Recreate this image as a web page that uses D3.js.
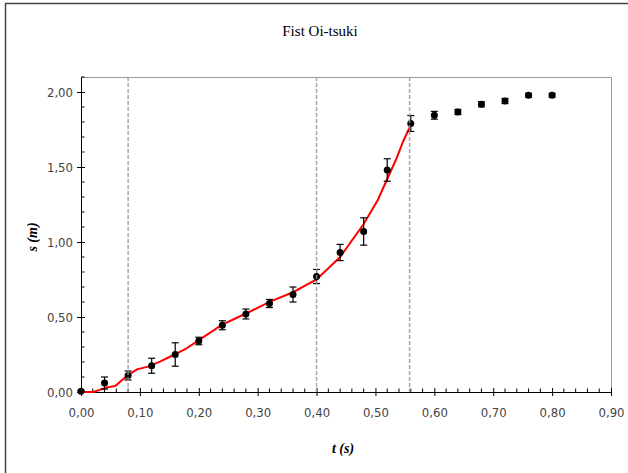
<!DOCTYPE html>
<html>
<head>
<meta charset="utf-8">
<script src="https://cdn.jsdelivr.net/npm/d3@7"></script>
<style>
  body { margin: 0; background: #fff; }
  .tick text { font-family: "Liberation Sans Narrow", "DejaVu Sans Condensed", sans-serif; font-size: 13px; fill: #444; }
</style>
</head>
<body>
<div class="chart"></div>
<script>
// measured points: time (s), distance (m) and error bar half-width
var times = [0.00, 0.04, 0.08, 0.12, 0.16, 0.20, 0.24, 0.28, 0.32, 0.36, 0.40,
             0.44, 0.48, 0.52, 0.56, 0.60, 0.64, 0.68, 0.72, 0.76, 0.80];
var dist = [0.005, 0.06, 0.11, 0.175, 0.25, 0.34, 0.445, 0.52, 0.59, 0.65, 0.77,
            0.93, 1.07, 1.48, 1.79, 1.845, 1.867, 1.918, 1.94, 1.978, 1.978];
var errs = [0.006, 0.04, 0.03, 0.05, 0.078, 0.025, 0.03, 0.033, 0.027, 0.05, 0.047,
            0.054, 0.091, 0.075, 0.053, 0.026, 0.017, 0.017, 0.017, 0.013, 0.013];

// red fitted curve
var fitT = [0, 0.021, 0.044, 0.058, 0.080, 0.095, 0.114, 0.134, 0.151, 0.177, 0.199,
            0.239, 0.281, 0.321, 0.36, 0.40, 0.44, 0.48, 0.504, 0.52, 0.535, 0.547, 0.56];
var fitS = [0, 0, 0.031, 0.040, 0.113, 0.151, 0.169, 0.202, 0.235, 0.285, 0.342,
            0.447, 0.525, 0.602, 0.665, 0.75, 0.90, 1.12, 1.28, 1.42, 1.55, 1.67, 1.78];

// phase separators
var phases = [0.08, 0.40, 0.558];

var xTicks = [0, 0.1, 0.2, 0.3, 0.4, 0.5, 0.6, 0.7, 0.8, 0.9];
var yTicks = [0, 0.5, 1.0, 1.5, 2.0];

var W = 628, H = 473;
var margin = {top: 77, right: 17, bottom: 81, left: 81};

var svg = d3.select(".chart").append("svg")
            .attr("width", W)
            .attr("height", H);

// outer frame
svg.append("rect")
   .attr("x", 5.5).attr("y", 3.5)
   .attr("width", W + 20).attr("height", H + 20)
   .attr("fill", "none")
   .attr("stroke", "#444")
   .attr("stroke-width", 1.5);

var x = d3.scaleLinear().domain([0, 0.9]).range([margin.left, W - margin.right]);
var y = d3.scaleLinear().domain([0, 2.1]).range([H - margin.bottom, margin.top]);

var fmt = function(d) { return d3.format(".2f")(d).replace(".", ","); };

// plot frame (top and right in grey)
svg.append("path")
   .attr("d", "M" + x(0) + "," + (y(2.1) + 0.5) + "H" + (x(0.9) + 0.5) + "V" + y(0))
   .attr("fill", "none")
   .attr("stroke", "#999")
   .attr("stroke-width", 1);

// minor ticks
var minorX = d3.range(0, 0.9001, 0.02).filter(function(d) { return Math.abs(d * 10 - Math.round(d * 10)) > 1e-6; });
var minorY = d3.range(0, 2.1001, 0.1).filter(function(d) { return Math.abs(d * 2 - Math.round(d * 2)) > 1e-6; });

svg.append("g").selectAll("line").data(minorX).enter().append("line")
   .attr("x1", function(d) { return x(d); }).attr("x2", function(d) { return x(d); })
   .attr("y1", y(0) - 3.5).attr("y2", y(0))
   .attr("stroke", "#000");

svg.append("g").selectAll("line").data(minorY).enter().append("line")
   .attr("y1", function(d) { return y(d); }).attr("y2", function(d) { return y(d); })
   .attr("x1", x(0)).attr("x2", x(0) + 3.5)
   .attr("stroke", "#000");

// axes
var xAxis = svg.append("g")
   .attr("transform", "translate(0," + y(0) + ")")
   .call(d3.axisBottom(x).tickValues(xTicks).tickFormat(fmt).tickSize(4).tickPadding(12).tickSizeOuter(0));
xAxis.select(".domain").attr("stroke", "#000");
xAxis.selectAll(".tick line").attr("y1", -4).attr("stroke", "#000");

var yAxis = svg.append("g")
   .attr("transform", "translate(" + x(0) + ",0)")
   .call(d3.axisLeft(y).tickValues(yTicks).tickFormat(fmt).tickSize(4).tickPadding(4).tickSizeOuter(0));
yAxis.select(".domain").attr("stroke", "#000");
yAxis.selectAll(".tick line").attr("x1", 4).attr("x2", -4).attr("stroke", "#000");

// red fitted line
var line = d3.line()
   .x(function(d) { return x(d[0]); })
   .y(function(d) { return y(d[1]); });

svg.append("path")
   .datum(d3.zip(fitT, fitS))
   .attr("d", line)
   .attr("fill", "none")
   .attr("stroke", "#ff0000")
   .attr("stroke-width", 2);

// error bars
var pts = d3.zip(times, dist, errs);
var eb = svg.append("g").attr("stroke", "#000").attr("stroke-width", 1.2);
eb.selectAll(".v").data(pts).enter().append("line")
  .attr("x1", function(d) { return x(d[0]); }).attr("x2", function(d) { return x(d[0]); })
  .attr("y1", function(d) { return y(d[1] + d[2]); })
  .attr("y2", function(d) { return y(d[1] - d[2]); });
[1, -1].forEach(function(s) {
  eb.selectAll(".c" + s).data(pts).enter().append("line")
    .attr("x1", function(d) { return x(d[0]) - 3.5; })
    .attr("x2", function(d) { return x(d[0]) + 3.5; })
    .attr("y1", function(d) { return y(d[1] + s * d[2]); })
    .attr("y2", function(d) { return y(d[1] + s * d[2]); });
});

// points
svg.append("g").selectAll("circle").data(pts).enter().append("circle")
   .attr("cx", function(d) { return x(d[0]); })
   .attr("cy", function(d) { return y(d[1]); })
   .attr("r", 3.5)
   .attr("fill", "#000");

// dashed phase lines
svg.append("g").selectAll("line").data(phases).enter().append("line")
   .attr("x1", function(d) { return x(d); }).attr("x2", function(d) { return x(d); })
   .attr("y1", y(2.1)).attr("y2", y(0))
   .attr("stroke", "#999")
   .attr("stroke-width", 1.5)
   .attr("stroke-opacity", 0.85)
   .attr("stroke-dasharray", "4,2");

// title and axis labels
svg.append("text")
   .attr("x", 320).attr("y", 36)
   .attr("text-anchor", "middle")
   .style("font-family", "'Liberation Serif', serif")
   .style("font-size", "15px")
   .text("Fist Oi-tsuki");

svg.append("text")
   .attr("x", 343).attr("y", 453)
   .attr("text-anchor", "middle")
   .style("font-family", "'Liberation Serif', serif")
   .style("font-size", "14px")
   .style("font-weight", "bold")
   .style("font-style", "italic")
   .text("t (s)");

svg.append("text")
   .attr("transform", "translate(37,237) rotate(-90)")
   .attr("text-anchor", "middle")
   .style("font-family", "'Liberation Serif', serif")
   .style("font-size", "14px")
   .style("font-weight", "bold")
   .style("font-style", "italic")
   .text("s (m)");
</script>
</body>
</html>
